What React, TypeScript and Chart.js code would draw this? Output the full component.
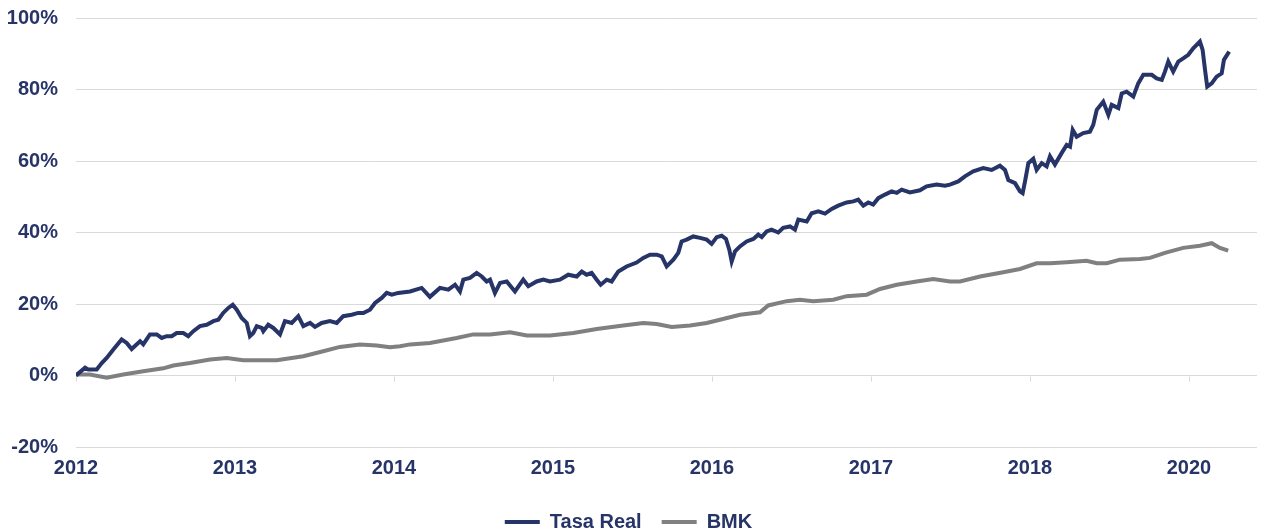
import React, { useEffect, useRef } from "react";
import { Chart, registerables } from "chart.js";

Chart.register(...registerables);

const seriesNames = ["Tasa Real", "BMK"];

// x positions are in axis-tick units (0 = first tick "2012", 1 = next tick, ...)
const xTickValues = [0, 1, 2, 3, 4, 5, 6, 7];
const xTickLabels = ["2012", "2013", "2014", "2015", "2016", "2017", "2018", "2020"];
const xMax = 7.428;

const yMin = -20;
const yMax = 100;
const yStep = 20;

const tasaX = [
  0, 0.057, 0.077, 0.13, 0.162, 0.193, 0.235, 0.287, 0.319, 0.35, 0.403, 0.423, 0.465, 0.508, 0.539,
  0.57, 0.602, 0.633, 0.675, 0.706, 0.738, 0.78, 0.822, 0.864, 0.895, 0.926, 0.958, 0.986, 1.011,
  1.042, 1.074, 1.094, 1.115, 1.137, 1.168, 1.178, 1.209, 1.241, 1.283, 1.314, 1.357, 1.398, 1.43,
  1.472, 1.503, 1.545, 1.597, 1.64, 1.681, 1.734, 1.775, 1.807, 1.849, 1.881, 1.923, 1.954, 1.986,
  2.027, 2.101, 2.174, 2.226, 2.289, 2.342, 2.384, 2.415, 2.436, 2.478, 2.52, 2.552, 2.583, 2.604,
  2.635, 2.667, 2.709, 2.761, 2.813, 2.845, 2.897, 2.939, 2.981, 3.044, 3.096, 3.149, 3.181, 3.212,
  3.243, 3.275, 3.3, 3.338, 3.369, 3.411, 3.463, 3.526, 3.568, 3.61, 3.652, 3.684, 3.715, 3.757,
  3.788, 3.809, 3.841, 3.882, 3.925, 3.967, 3.998, 4.03, 4.061, 4.088, 4.109, 4.124, 4.145, 4.176,
  4.218, 4.26, 4.291, 4.313, 4.344, 4.375, 4.417, 4.448, 4.491, 4.522, 4.543, 4.596, 4.627, 4.669,
  4.711, 4.753, 4.794, 4.847, 4.889, 4.92, 4.952, 4.983, 5.014, 5.046, 5.088, 5.13, 5.162, 5.193,
  5.245, 5.308, 5.35, 5.413, 5.465, 5.497, 5.549, 5.591, 5.643, 5.706, 5.759, 5.811, 5.843, 5.864,
  5.906, 5.937, 5.954, 5.969, 5.99, 6.021, 6.042, 6.074, 6.105, 6.126, 6.157, 6.199, 6.231, 6.252,
  6.269, 6.294, 6.335, 6.377, 6.398, 6.42, 6.461, 6.493, 6.514, 6.556, 6.577, 6.608, 6.65, 6.681,
  6.713, 6.766, 6.797, 6.829, 6.849, 6.87, 6.901, 6.933, 6.964, 6.996, 7.027, 7.069, 7.086, 7.101,
  7.115, 7.143, 7.174, 7.206, 7.22, 7.253,
];
const tasaY = [
  0, 2.2, 1.7, 1.7, 3.5, 4.9, 7.3, 10.1, 9.1, 7.4, 9.6, 8.7, 11.5, 11.5, 10.5,
  11.0, 11.0, 11.9, 11.9, 11.0, 12.4, 13.8, 14.2, 15.2, 15.6, 17.5, 18.9, 19.8, 18.4,
  16.1, 14.7, 11.0, 11.9, 13.8, 13.3, 12.4, 14.2, 13.3, 11.5, 15.2, 14.7, 16.6, 13.8,
  14.7, 13.6, 14.7, 15.2, 14.7, 16.6, 17.0, 17.5, 17.5, 18.4, 20.3, 21.7, 23.1, 22.6,
  23.1, 23.5, 24.5, 22.0, 24.5, 24.0, 25.4, 23.5, 26.8, 27.3, 28.7, 27.7, 26.3, 26.8,
  23.1, 25.9, 26.3, 23.5, 26.8, 25.0, 26.3, 26.8, 26.3, 26.8, 28.2, 27.7, 29.1, 28.2,
  28.7, 26.8, 25.4, 26.8, 26.3, 29.1, 30.5, 31.6, 32.9, 33.8, 33.8, 33.3, 30.5, 32.4,
  34.3, 37.5, 38.0, 38.9, 38.5, 38.0, 36.8, 38.7, 39.1, 38.2, 35.2, 31.9, 34.7, 36.1,
  37.5, 38.2, 39.4, 38.7, 40.3, 40.8, 40.0, 41.3, 41.7, 40.8, 43.6, 43.1, 45.4, 45.9,
  45.3, 46.6, 47.5, 48.4, 48.7, 49.2, 47.5, 48.4, 47.8, 49.6, 50.6, 51.5, 51.1, 52.0,
  51.2, 51.8, 52.9, 53.4, 53.1, 53.4, 54.3, 55.7, 57.1, 58.0, 57.5, 58.7, 57.5, 54.7,
  53.8, 51.5, 51.0, 54.3, 59.4, 60.6, 57.5, 59.4, 58.5, 61.3, 59.0, 62.2, 64.5, 64.0,
  68.7, 66.8, 67.8, 68.2, 70.1, 74.3, 76.6, 72.9, 75.7, 74.8, 78.9, 79.4, 78.0, 81.7,
  84.1, 84.1, 83.1, 82.7, 85.0, 87.8, 85.0, 87.8, 88.7, 89.7, 91.5, 93.4, 91.1, 85.5,
  80.8, 81.7, 83.6, 84.5, 88.3, 90.6,
];

const bmkX = [
  0, 0.088, 0.193, 0.297, 0.423, 0.549, 0.612, 0.717, 0.843, 0.948, 1.052, 1.262, 1.43, 1.555,
  1.66, 1.786, 1.891, 1.975, 2.038, 2.101, 2.226, 2.394, 2.499, 2.604, 2.73, 2.835, 2.981, 3.128,
  3.275, 3.442, 3.568, 3.652, 3.747, 3.862, 3.967, 4.05, 4.176, 4.302, 4.354, 4.47, 4.553, 4.637,
  4.763, 4.847, 4.973, 5.057, 5.162, 5.287, 5.392, 5.497, 5.56, 5.686, 5.832, 5.937, 6.042, 6.126,
  6.231, 6.356, 6.42, 6.483, 6.566, 6.692, 6.755, 6.849, 6.964, 7.069, 7.143, 7.195, 7.247,
];
const bmkY = [
  0.3, 0.3, -0.6, 0.3, 1.2, 2.0, 2.8, 3.5, 4.5, 4.9, 4.3, 4.3, 5.4, 6.8,
  8.0, 8.7, 8.4, 7.9, 8.2, 8.7, 9.1, 10.5, 11.5, 11.5, 12.1, 11.2, 11.2, 11.9,
  13.0, 14.0, 14.7, 14.4, 13.6, 14.0, 14.7, 15.6, 17.0, 17.7, 19.6, 20.8, 21.2, 20.8,
  21.2, 22.2, 22.6, 24.2, 25.4, 26.3, 27.0, 26.3, 26.3, 27.7, 28.9, 29.8, 31.4, 31.4,
  31.7, 32.1, 31.4, 31.4, 32.4, 32.6, 32.9, 34.3, 35.7, 36.3, 37.0, 35.7, 34.9,
];

const NAVY = "#263468";
const GRAY = "#808080";
const GRID = "#d9d9d9";
const FONT = { family: "'Liberation Sans', Arial, sans-serif", size: 20, weight: "bold" as const };

const zeroAxisTicks = {
  id: "zeroAxisTicks",
  beforeDatasetsDraw(chart: any) {
    const { ctx, scales } = chart;
    const xs = scales.x;
    const ys = scales.y;
    const y0 = Math.round(ys.getPixelForValue(0)) + 0.5;
    ctx.save();
    ctx.strokeStyle = GRID;
    ctx.lineWidth = 1;
    xTickValues.forEach((v) => {
      const px = Math.round(xs.getPixelForValue(v)) + 0.5;
      ctx.beginPath();
      ctx.moveTo(px, y0);
      ctx.lineTo(px, y0 + 5);
      ctx.stroke();
    });
    ctx.restore();
  },
};

export default function App() {
  const canvasRef = useRef<HTMLCanvasElement | null>(null);

  useEffect(() => {
    const canvas = canvasRef.current;
    if (!canvas) return;
    const chart = new Chart(canvas, {
      type: "line",
      data: {
        datasets: [
          {
            label: seriesNames[0],
            data: tasaX.map((x, i) => ({ x, y: tasaY[i] })),
            borderColor: NAVY,
            backgroundColor: NAVY,
            borderWidth: 4,
            pointRadius: 0,
            tension: 0,
            fill: false,
          },
          {
            label: seriesNames[1],
            data: bmkX.map((x, i) => ({ x, y: bmkY[i] })),
            borderColor: GRAY,
            backgroundColor: GRAY,
            borderWidth: 4,
            pointRadius: 0,
            tension: 0,
            fill: false,
          },
        ],
      },
      options: {
        animation: false,
        responsive: false,
        maintainAspectRatio: false,
        layout: { padding: { top: 18, right: 8, left: 0, bottom: 0 } },
        scales: {
          x: {
            type: "linear",
            min: 0,
            max: xMax,
            grid: { display: false, drawTicks: false },
            border: { display: false },
            afterBuildTicks: (s: any) => {
              s.ticks = xTickValues.map((v) => ({ value: v }));
            },
            afterFit: (s: any) => {
              s.height = 45;
              s.paddingLeft = 0;
              s.paddingRight = 0;
            },
            ticks: {
              autoSkip: false,
              maxRotation: 0,
              padding: 9,
              color: NAVY,
              font: FONT,
              callback: (v: any) => {
                const i = xTickValues.indexOf(Number(v));
                return i >= 0 ? xTickLabels[i] : "";
              },
            },
          },
          y: {
            min: yMin,
            max: yMax,
            grid: { color: GRID, lineWidth: 1, drawTicks: false },
            border: { display: false },
            afterFit: (s: any) => {
              s.width = 76;
              s.paddingTop = 0;
              s.paddingBottom = 0;
            },
            ticks: {
              stepSize: yStep,
              padding: 18,
              color: NAVY,
              font: FONT,
              callback: (v: any) => `${v}%`,
            },
          },
        },
        plugins: {
          tooltip: { enabled: false },
          legend: {
            position: "bottom",
            labels: {
              boxWidth: 35,
              boxHeight: 4,
              padding: 20,
              color: NAVY,
              font: FONT,
              generateLabels: (c: any) =>
                (Chart.defaults.plugins.legend.labels as any)
                  .generateLabels(c)
                  .map((l: any) => ({ ...l, fillStyle: l.strokeStyle, lineWidth: 0 })),
            },
          },
        },
      },
      plugins: [zeroAxisTicks],
    });
    return () => chart.destroy();
  }, []);

  return (
    <div style={{ position: "fixed", left: 0, top: 0, width: 1265, height: 542, background: "#fff" }}>
      <canvas ref={canvasRef} width={1265} height={542} style={{ display: "block" }} />
    </div>
  );
}
